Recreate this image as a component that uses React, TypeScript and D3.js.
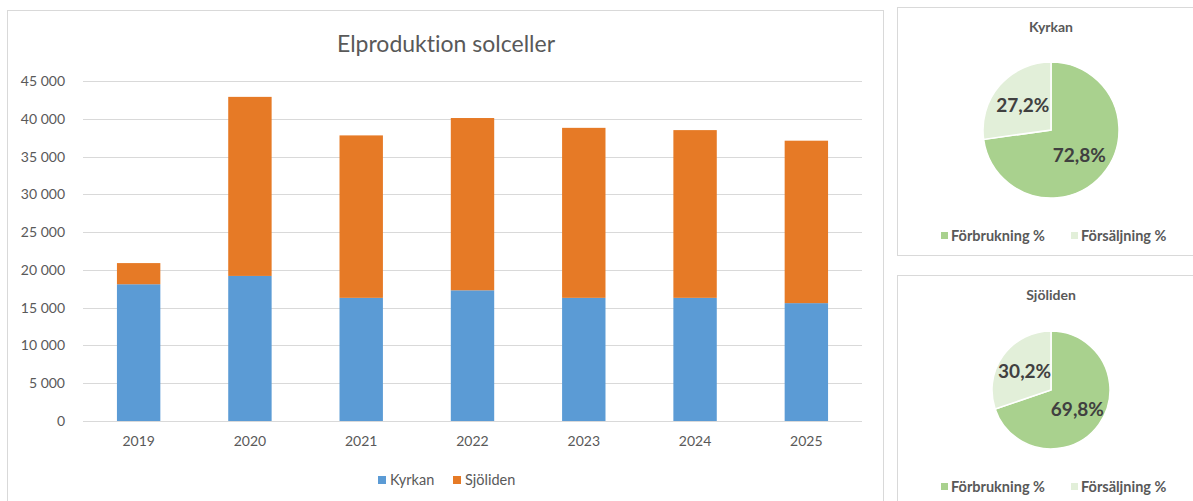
import React, { useEffect, useRef } from 'react'
import * as d3 from 'd3'

const years = ['2019', '2020', '2021', '2022', '2023', '2024', '2025']
const kyrkan = [18100, 19200, 16300, 17300, 16300, 16300, 15600]
const sjoliden = [2800, 23700, 21500, 22800, 22500, 22200, 21500]
const yTicks = [0, 5000, 10000, 15000, 20000, 25000, 30000, 35000, 40000, 45000]
const seriesNames = ['Kyrkan', 'Sjöliden']

const pieLabels = ['Förbrukning %', 'Försäljning %']
const kyrkanPie = [72.8, 27.2]
const sjolidenPie = [69.8, 30.2]

export default function App() {
    const ref = useRef<SVGSVGElement>(null)

    let width = 1193, height = 501
    let font = 'Lato, "Open Sans", sans-serif'
    let textColor = '#595959'
    let gridColor = '#d9d9d9'
    let barColors = ['#5b9bd5', '#e67a26']
    let pieColors = ['#a9d18e', '#e2efd9']

    function barChart(svg: any) {
        // outer frame of the column chart
        svg.append('rect')
            .attr('x', 7.5).attr('y', 10.5)
            .attr('width', 876).attr('height', 520)
            .attr('fill', 'white').attr('stroke', gridColor)

        svg.append('text')
            .attr('x', 446).attr('y', 52)
            .attr('text-anchor', 'middle')
            .text('Elproduktion solceller')
            .style('font-size', 23)
            .style('font-family', font)
            .style('font-variant-ligatures', 'none')
            .attr('fill', textColor)

        var x = d3.scaleBand().domain(years).range([83, 862])
        var y = d3.scaleLinear().domain([0, 45000]).range([421, 81])
        let fmt = (v: number) => d3.format(',')(v).replace(',', ' ')

        svg.selectAll('.grid')
            .data(yTicks)
            .enter()
            .append('line')
            .attr('x1', 83).attr('x2', 862)
            .attr('y1', (d: number) => Math.round(y(d)) + 0.5)
            .attr('y2', (d: number) => Math.round(y(d)) + 0.5)
            .attr('stroke', gridColor)

        svg.selectAll('.ytick')
            .data(yTicks)
            .enter()
            .append('text')
            .attr('x', 65)
            .attr('y', (d: number) => y(d) + 5)
            .attr('text-anchor', 'end')
            .text((d: number) => fmt(d))
            .style('font-size', 14)
            .style('font-family', font)
            .attr('fill', textColor)

        let table = years.map((yr, i) => ({ year: yr, Kyrkan: kyrkan[i], 'Sjöliden': sjoliden[i] }))
        let stacked = d3.stack<any>().keys(seriesNames)(table)
        let barW = x.bandwidth() * 0.39

        stacked.forEach((layer: any, k: number) => {
            svg.append('g')
                .selectAll('rect')
                .data(layer)
                .enter()
                .append('rect')
                .attr('x', (d: any) => (x(d.data.year) as number) + (x.bandwidth() - barW) / 2)
                .attr('y', (d: any) => y(d[1]))
                .attr('width', barW)
                .attr('height', (d: any) => y(d[0]) - y(d[1]))
                .attr('fill', barColors[k])
        })

        svg.selectAll('.xtick')
            .data(years)
            .enter()
            .append('text')
            .attr('x', (d: string) => (x(d) as number) + x.bandwidth() / 2)
            .attr('y', 446)
            .attr('text-anchor', 'middle')
            .text((d: string) => d)
            .style('font-size', 14)
            .style('font-family', font)
            .attr('fill', textColor)

        let legendX = [378, 453]
        seriesNames.forEach((name, i) => {
            svg.append('rect')
                .attr('x', legendX[i]).attr('y', 476)
                .attr('width', 8).attr('height', 8)
                .attr('fill', barColors[i])
            svg.append('text')
                .attr('x', legendX[i] + 12).attr('y', 485)
                .text(name)
                .style('font-size', 14.5)
                .style('font-family', font)
                .attr('fill', textColor)
        })
    }

    function pieChart(svg: any, values: number[], title: string, top: number, cy: number, r: number, legendY: number) {
        svg.append('rect')
            .attr('x', 897.5).attr('y', top + 0.5)
            .attr('width', 310).attr('height', top < 100 ? 248 : 260)
            .attr('fill', 'white').attr('stroke', gridColor)

        let cx = 1051
        svg.append('text')
            .attr('x', cx).attr('y', top + 25)
            .attr('text-anchor', 'middle')
            .text(title)
            .style('font-size', 14)
            .style('font-weight', 'bold')
            .style('font-family', font)
            .attr('fill', textColor)

        let pie = d3.pie<number>().sort(null).value((d) => d)
        let arc = d3.arc<any>().innerRadius(0).outerRadius(r)
        let labelArc = d3.arc<any>().innerRadius(r * 0.55).outerRadius(r * 0.55)
        let g = svg.append('g').attr('transform', 'translate(' + cx + ', ' + cy + ')')
        let arcs = pie(values)

        g.selectAll('path')
            .data(arcs)
            .enter()
            .append('path')
            .attr('d', arc)
            .attr('fill', (d: any, i: number) => pieColors[i])
            .attr('stroke', 'white')
            .attr('stroke-width', 1.5)

        g.selectAll('.lbl')
            .data(arcs)
            .enter()
            .append('text')
            .attr('transform', (d: any) => {
                let c = labelArc.centroid(d)
                return 'translate(' + c[0] + ', ' + (c[1] + 7) + ')'
            })
            .attr('text-anchor', 'middle')
            .text((d: any) => d3.format('.1f')(d.data).replace('.', ',') + '%')
            .style('font-size', 19)
            .style('font-weight', 'bold')
            .style('font-family', font)
            .attr('fill', '#404040')

        let legendX = [941, 1071]
        pieLabels.forEach((name, i) => {
            svg.append('rect')
                .attr('x', legendX[i]).attr('y', legendY - 4)
                .attr('width', 7).attr('height', 7)
                .attr('fill', pieColors[i])
            svg.append('text')
                .attr('x', legendX[i] + 10).attr('y', legendY + 5)
                .text(name)
                .style('font-size', 14.5)
                .style('font-weight', 'bold')
                .style('font-family', font)
                .attr('fill', textColor)
        })
    }

    useEffect(() => {
        var svg = d3.select(ref.current)
        svg.selectAll('*').remove()
        svg.append('rect').attr('width', width).attr('height', height).attr('fill', 'white')
        barChart(svg)
        pieChart(svg, kyrkanPie, 'Kyrkan', 7, 130, 68, 236)
        pieChart(svg, sjolidenPie, 'Sjöliden', 275, 390, 59, 487)
    }, [])

    return (
        <svg ref={ref} width={width} height={height}
            style={{ position: 'absolute', left: 0, top: 0, display: 'block' }} />
    )
}
